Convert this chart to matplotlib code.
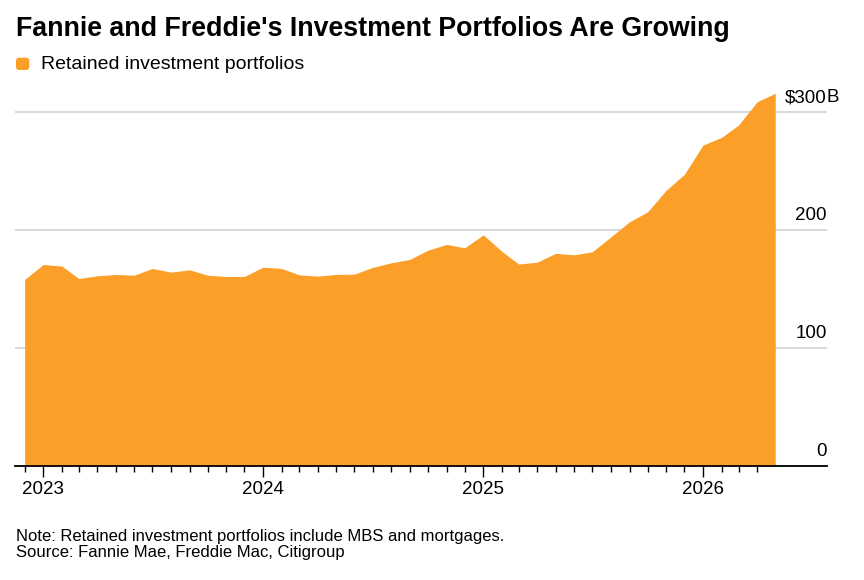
import numpy as np
import pandas as pd
import matplotlib
matplotlib.use("Agg")
import matplotlib.pyplot as plt
import matplotlib.dates as mdates
from matplotlib.patches import FancyBboxPatch

AREA_COLOR = "#FB9F29"
GRID_COLOR = "#d6d6d6"
FONT = "Liberation Sans"

# monthly, Dec 2022 .. May 2026, $ billions
months = pd.date_range("2022-12-01", periods=42, freq="MS")
portfolios = [
    158.1,
    170.8, 169.4, 158.9, 161.2, 162.3, 161.7, 167.4, 164.3, 166.2, 161.7, 160.6, 160.6,
    168.5, 167.4, 162.0, 160.9, 162.3, 162.6, 168.3, 172.2, 175.1, 182.9, 187.8, 184.9,
    195.9, 181.8, 171.1, 172.8, 180.2, 179.0, 181.5, 194.2, 207.0, 215.4, 233.8, 247.2,
    272.0, 278.5, 289.0, 308.7, 315.9,
]
y_ticks = [0, 100, 200, 300]
y_labels = ["0", "100", "200", "$300"]

plt.rcParams["font.family"] = [FONT, "DejaVu Sans"]

fig = plt.figure(figsize=(8.64, 5.8), dpi=100)
ax = fig.add_axes([15 / 864, 114 / 580, 812 / 864, 377.6 / 580])

ax.fill_between(months, portfolios, 0, color=AREA_COLOR, lw=0, zorder=2)

ax.set_ylim(0, 320)
ax.set_xlim(pd.Timestamp("2022-11-15"), pd.Timestamp("2026-07-26"))

# gridlines + labels sitting on top of them at the right edge
ax.set_yticks(y_ticks)
ax.yaxis.grid(True, color=GRID_COLOR, lw=1.3, zorder=0)
ax.set_axisbelow(True)
ax.tick_params(axis="y", length=0, labelleft=False)
for val, lab in zip(y_ticks, y_labels):
    ax.annotate(lab, xy=(1, val), xycoords=("axes fraction", "data"),
                xytext=(0, 7), textcoords="offset points",
                ha="right", va="baseline", fontsize=13.5)
ax.annotate("B", xy=(1, 300), xycoords=("axes fraction", "data"),
            xytext=(0, 7), textcoords="offset points",
            ha="left", va="baseline", fontsize=13.5)

for s in ["left", "right", "top"]:
    ax.spines[s].set_visible(False)
ax.spines["bottom"].set_linewidth(1.3)
ax.spines["bottom"].set_zorder(3)

years = [d for d in months if d.month == 1]
ax.set_xticks(years)
ax.set_xticks(list(months[:-1]), minor=True)
ax.xaxis.set_major_formatter(mdates.DateFormatter("%Y"))
ax.tick_params(axis="x", which="major", length=8, width=1, pad=2.5, labelsize=13.5)
ax.tick_params(axis="x", which="minor", length=4, width=1)

fig.text(16 / 864, (580 - 36) / 580, "Fannie and Freddie's Investment Portfolios Are Growing",
         fontsize=19.3, fontweight="bold", va="baseline", ha="left")

fig.patches.append(FancyBboxPatch((0.18, 5.12), 0.093, 0.083,
                                  boxstyle="round,pad=0.02,rounding_size=0.03",
                                  transform=fig.dpi_scale_trans, color=AREA_COLOR, lw=0))
fig.text(41 / 864, (580 - 69) / 580, "Retained investment portfolios",
         fontsize=14, va="baseline", ha="left")

fig.text(16 / 864, (580 - 541) / 580,
         "Note: Retained investment portfolios include MBS and mortgages.",
         fontsize=12, va="baseline", ha="left")
fig.text(16 / 864, (580 - 557) / 580, "Source: Fannie Mae, Freddie Mac, Citigroup",
         fontsize=12, va="baseline", ha="left")

fig.savefig("out.png", dpi=100)
